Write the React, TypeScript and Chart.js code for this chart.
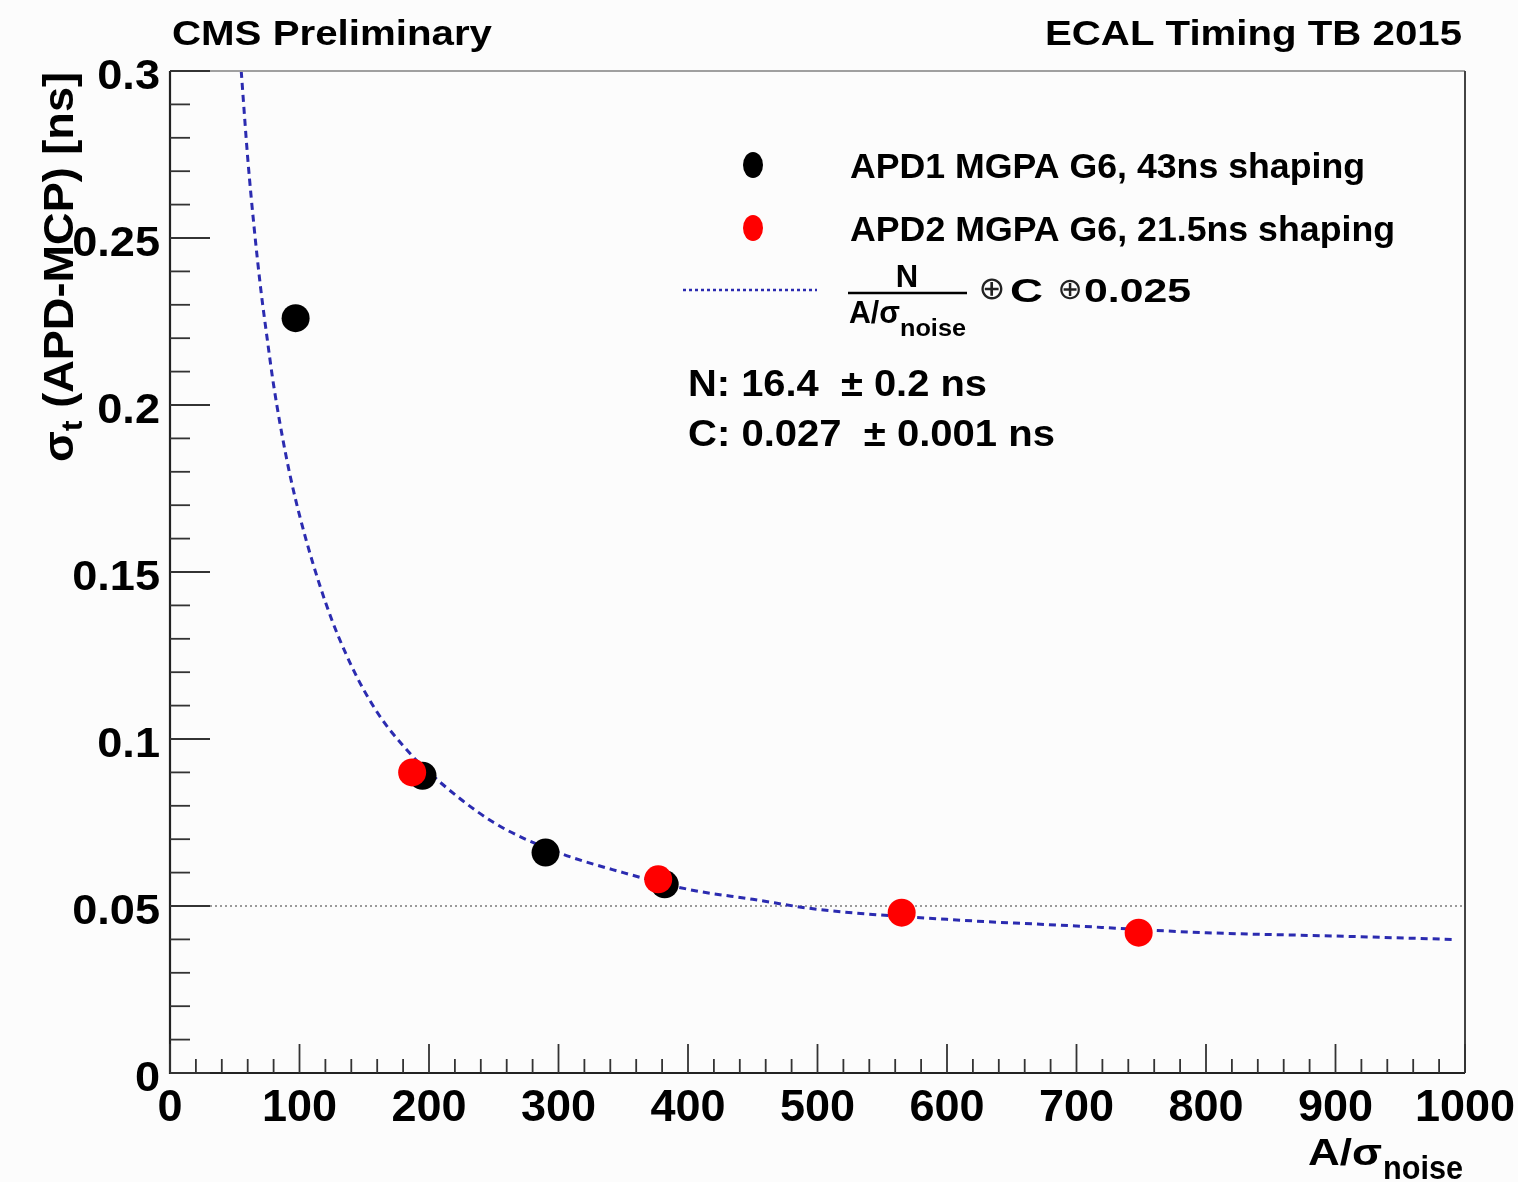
import React, { useEffect, useRef } from "react";
import { Chart, registerables } from "chart.js";

Chart.register(...registerables);

// ---- data ----
const apd1X = [97, 195, 290, 382];
const apd1Y = [0.226, 0.089, 0.066, 0.0565];

const apd2X = [187, 377, 565, 748];
const apd2Y = [0.09, 0.058, 0.048, 0.042];

const fitX = [55, 60, 65, 70, 75, 80, 90, 100, 120, 140, 160, 180, 200, 250, 300, 350, 400, 450, 500, 600, 700, 800, 900, 990];
const fitY = [0.3, 0.274, 0.253, 0.235, 0.22, 0.206, 0.184, 0.167, 0.141, 0.122, 0.108, 0.098, 0.09, 0.075, 0.066, 0.06, 0.055, 0.052, 0.049, 0.046, 0.044, 0.042, 0.041, 0.04];

const xTickValues = [0, 100, 200, 300, 400, 500, 600, 700, 800, 900, 1000];
const xTickLabels = ["0", "100", "200", "300", "400", "500", "600", "700", "800", "900", "1000"];
const yTickValues = [0, 0.05, 0.1, 0.15, 0.2, 0.25, 0.3];
const yTickLabels = ["0", "0.05", "0.1", "0.15", "0.2", "0.25", "0.3"];
const referenceLevel = 0.05;

const legendLabels = ["APD1 MGPA G6, 43ns shaping", "APD2 MGPA G6, 21.5ns shaping"];
const statLines = ["N: 16.4  \u00b1 0.2 ns", "C: 0.027  \u00b1 0.001 ns"];

const FAMILY = '"Liberation Sans", Arial, Helvetica, sans-serif';

function font(size: number, bold = true, family = FAMILY) {
  return `${bold ? "bold " : ""}${size}px ${family}`;
}

function txt(
  ctx: CanvasRenderingContext2D,
  s: string,
  x: number,
  y: number,
  size: number,
  opts: { bold?: boolean; align?: CanvasTextAlign; width?: number; sx?: number; family?: string } = {}
) {
  ctx.font = font(size, opts.bold !== false, opts.family ?? FAMILY);
  const w = ctx.measureText(s).width;
  const sx = opts.width ? opts.width / w : opts.sx ?? 1;
  ctx.save();
  ctx.translate(x, y);
  ctx.scale(sx, 1);
  ctx.textAlign = opts.align ?? "left";
  ctx.textBaseline = "alphabetic";
  ctx.fillText(s, 0, 0);
  ctx.restore();
  return w * sx;
}

const rootPlugin = {
  id: "rootStyle",
  beforeDraw(chart: any) {
    const ctx = chart.ctx as CanvasRenderingContext2D;
    ctx.save();
    ctx.fillStyle = "#fcfcfc";
    ctx.fillRect(0, 0, chart.width, chart.height);
    ctx.restore();
  },
  beforeDatasetsDraw(chart: any) {
    const ctx = chart.ctx as CanvasRenderingContext2D;
    const x = chart.scales.x;
    const y = chart.scales.y;
    const yy = y.getPixelForValue(referenceLevel);
    ctx.save();
    ctx.strokeStyle = "#7a7a7a";
    ctx.lineWidth = 1.5;
    ctx.setLineDash([2, 3]);
    ctx.beginPath();
    ctx.moveTo(x.left + 40, yy);
    ctx.lineTo(x.right, yy);
    ctx.stroke();
    ctx.restore();
  },
  afterDraw(chart: any) {
    const ctx = chart.ctx as CanvasRenderingContext2D;
    const xs = chart.scales.x;
    const ys = chart.scales.y;
    const { left, right, top, bottom } = chart.chartArea;
    ctx.save();

    // frame
    ctx.lineCap = "butt";
    ctx.strokeStyle = "#a0a0a0";
    ctx.lineWidth = 2;
    ctx.beginPath();
    ctx.moveTo(left, top);
    ctx.lineTo(right, top);
    ctx.stroke();
    ctx.strokeStyle = "#444";
    ctx.beginPath();
    ctx.moveTo(right, top);
    ctx.lineTo(right, bottom);
    ctx.stroke();
    ctx.strokeStyle = "#222";
    ctx.lineWidth = 2.2;
    ctx.beginPath();
    ctx.moveTo(left, top);
    ctx.lineTo(left, bottom);
    ctx.lineTo(right, bottom);
    ctx.stroke();

    // y ticks (major 0.05, minor 0.01)
    ctx.strokeStyle = "#333";
    ctx.lineWidth = 1.8;
    for (let i = 0; i <= 30; i++) {
      const v = i / 100;
      const py = ys.getPixelForValue(v);
      const len = i % 5 === 0 ? 40 : 20;
      ctx.beginPath();
      ctx.moveTo(left, py);
      ctx.lineTo(left + len, py);
      ctx.stroke();
    }
    // x ticks (major 100, minor 20)
    for (let i = 0; i <= 50; i++) {
      const v = i * 20;
      const px = xs.getPixelForValue(v);
      const len = i % 5 === 0 ? 29 : 14;
      ctx.beginPath();
      ctx.moveTo(px, bottom);
      ctx.lineTo(px, bottom - len);
      ctx.stroke();
    }

    ctx.fillStyle = "#000";
    // y tick labels
    yTickValues.forEach((v, i) => {
      const py = ys.getPixelForValue(v);
      txt(ctx, yTickLabels[i], 160, py + 18, 43, { align: "right", sx: 1.05 });
    });
    // x tick labels
    xTickValues.forEach((v, i) => {
      const px = xs.getPixelForValue(v);
      txt(ctx, xTickLabels[i], px, 1121, 45, { align: "center", sx: 1.0 });
    });

    // x title: A/σ_noise
    txt(ctx, "A/\u03c3", 1308, 1165, 36, { width: 74 });
    txt(ctx, "noise", 1383, 1179, 33, { width: 80 });

    // y title (rotated)
    {
      ctx.save();
      ctx.translate(73, 462);
      ctx.rotate(-Math.PI / 2);
      ctx.font = font(42);
      const w1 = ctx.measureText("\u03c3").width;
      const rest = " (APD-MCP) [ns]";
      const w3 = ctx.measureText(rest).width;
      ctx.font = font(30);
      const w2 = ctx.measureText("t").width;
      const sx = 390 / (w1 + w2 + w3);
      ctx.scale(sx, 1);
      ctx.textBaseline = "alphabetic";
      ctx.textAlign = "left";
      ctx.font = font(42);
      ctx.fillText("\u03c3", 0, 0);
      ctx.font = font(30);
      ctx.fillText("t", w1, 9);
      ctx.font = font(42);
      ctx.fillText(rest, w1 + w2, 0);
      ctx.restore();
    }

    // header texts
    txt(ctx, "CMS Preliminary", 172, 45, 35, { width: 320 });
    txt(ctx, "ECAL Timing TB 2015", 1462, 45, 35, { align: "right", width: 417 });

    // legend markers
    ctx.fillStyle = "#000";
    ctx.beginPath();
    ctx.ellipse(753, 165, 10, 13, 0, 0, Math.PI * 2);
    ctx.fill();
    ctx.fillStyle = "#ff0000";
    ctx.beginPath();
    ctx.ellipse(753, 228, 10, 13, 0, 0, Math.PI * 2);
    ctx.fill();
    // legend dotted line
    ctx.strokeStyle = "#2b2bb0";
    ctx.lineWidth = 2.5;
    ctx.setLineDash([3, 3]);
    ctx.beginPath();
    ctx.moveTo(683, 290);
    ctx.lineTo(817, 290);
    ctx.stroke();
    ctx.setLineDash([]);

    ctx.fillStyle = "#000";
    txt(ctx, legendLabels[0], 850, 178, 35, { width: 515 });
    txt(ctx, legendLabels[1], 850, 241, 35, { width: 545 });

    // fit formula
    txt(ctx, "N", 907, 287, 31, { align: "center", sx: 1.0 });
    ctx.strokeStyle = "#000";
    ctx.lineWidth = 2.5;
    ctx.beginPath();
    ctx.moveTo(848, 293);
    ctx.lineTo(967, 293);
    ctx.stroke();
    txt(ctx, "A/\u03c3", 849, 323, 31, { width: 51 });
    txt(ctx, "noise", 900, 336, 23, { width: 66 });
    ctx.fillStyle = "#222";
    txt(ctx, "\u2295", 992, 299, 32, { bold: false, align: "center", family: '"DejaVu Sans", sans-serif' });
    txt(ctx, "\u2295", 1070, 299, 30, { bold: false, align: "center", family: '"DejaVu Sans", sans-serif' });
    ctx.fillStyle = "#000";
    txt(ctx, "C", 1010, 302, 33, { width: 33 });
    txt(ctx, "0.025", 1084, 302, 33, { width: 107 });

    // fit results
    txt(ctx, statLines[0], 688, 396, 37, { width: 299 });
    txt(ctx, statLines[1], 688, 446, 37, { width: 367 });

    ctx.restore();
  },
};

export default function App() {
  const ref = useRef<HTMLCanvasElement | null>(null);

  useEffect(() => {
    if (!ref.current) return;
    const chart = new Chart(ref.current, {
      type: "scatter",
      data: {
        datasets: [
          {
            label: legendLabels[1],
            data: apd2X.map((x, i) => ({ x, y: apd2Y[i] })),
            backgroundColor: "#ff0000",
            borderColor: "#ff0000",
            borderWidth: 0,
            pointRadius: 14,
            pointHoverRadius: 14,
            order: 1,
          },
          {
            label: legendLabels[0],
            data: apd1X.map((x, i) => ({ x, y: apd1Y[i] })),
            backgroundColor: "#000000",
            borderColor: "#000000",
            borderWidth: 0,
            pointRadius: 14,
            pointHoverRadius: 14,
            order: 2,
          },
          {
            label: "fit",
            data: fitX.map((x, i) => ({ x, y: fitY[i] })),
            showLine: true,
            pointRadius: 0,
            borderColor: "#2b2bb0",
            borderWidth: 3,
            borderDash: [7, 5],
            cubicInterpolationMode: "monotone",
            fill: false,
            order: 3,
          } as any,
        ],
      },
      options: {
        animation: false,
        responsive: false,
        devicePixelRatio: 1,
        events: [],
        layout: { padding: { left: 170, top: 71, right: 53, bottom: 109 } },
        scales: {
          x: { type: "linear", min: 0, max: 1000, display: false },
          y: { type: "linear", min: 0, max: 0.3, display: false },
        },
        plugins: { legend: { display: false }, tooltip: { enabled: false } },
      },
      plugins: [rootPlugin],
    });
    return () => chart.destroy();
  }, []);

  return (
    <canvas
      ref={ref}
      width={1518}
      height={1182}
      style={{ position: "absolute", left: 0, top: 0, display: "block" }}
    />
  );
}
